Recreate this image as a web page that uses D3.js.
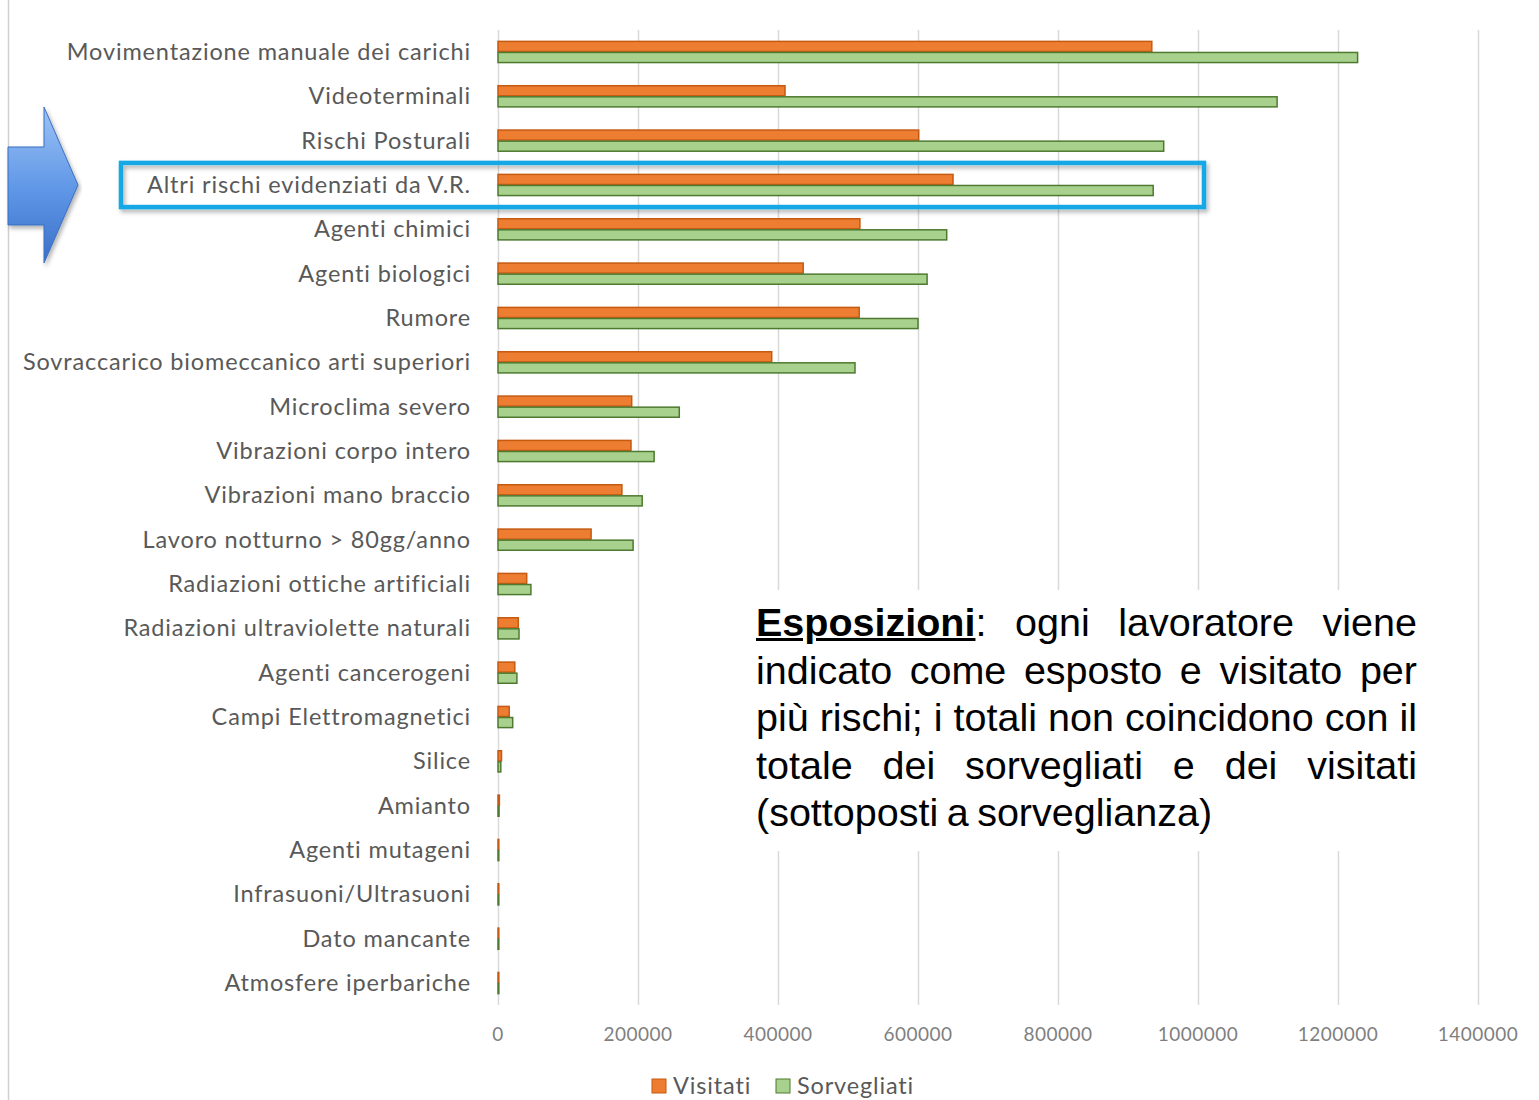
<!DOCTYPE html>
<html>
<head>
<meta charset="utf-8">
<script src="https://cdn.jsdelivr.net/npm/d3@7"></script>
<style>
  body { margin: 0; background: #fff; }
  #wrap { position: relative; width: 1539px; height: 1100px; overflow: hidden; }
  #note {
    position: absolute; left: 748px; top: 590px; width: 677px; padding: 9px 0 14px 8px;
    font-family: "Liberation Sans", Arial, sans-serif; font-size: 39.5px; line-height: 47.5px;
    color: #000; background: #fff; word-spacing: -2.5px;
  }
  #note div { width: 661px; white-space: nowrap; text-align: justify; text-align-last: justify; }
  #note div.last { text-align-last: left; }
  #note b { text-decoration: underline; }
</style>
</head>
<body>
<div id="wrap">
  <svg id="chart" width="1539" height="1100"></svg>
  <div id="note"></div>
</div>
<script>
var categories = [
  "Movimentazione manuale dei carichi", "Videoterminali", "Rischi Posturali",
  "Altri rischi evidenziati da V.R.", "Agenti chimici", "Agenti biologici", "Rumore",
  "Sovraccarico biomeccanico arti superiori", "Microclima severo", "Vibrazioni corpo intero",
  "Vibrazioni mano braccio", "Lavoro notturno > 80gg/anno", "Radiazioni ottiche artificiali",
  "Radiazioni ultraviolette naturali", "Agenti cancerogeni", "Campi Elettromagnetici",
  "Silice", "Amianto", "Agenti mutageni", "Infrasuoni/Ultrasuoni", "Dato mancante",
  "Atmosfere iperbariche"
];
var visitati = [934000, 410000, 601000, 650000, 517000, 436000, 516000, 391000, 191000, 190000,
  177000, 133000, 41000, 29000, 24000, 16000, 5000, 2000, 800, 800, 400, 900];
var sorvegliati = [1228000, 1113000, 951000, 936000, 641000, 613000, 600000, 510000, 259000, 223000,
  206000, 193000, 47000, 30000, 27000, 21000, 4000, 1500, 1000, 1000, 500, 1200];
var ticks = [0, 200000, 400000, 600000, 800000, 1000000, 1200000, 1400000];
var seriesNames = ["Visitati", "Sorvegliati"];
var noteLines = [
  "<b>Esposizioni</b>: ogni lavoratore viene",
  "indicato come esposto e visitato per",
  "più rischi; i totali non coincidono con il",
  "totale dei sorvegliati e dei visitati",
  "(sottoposti a sorveglianza)"
];
var colors = { Visitati: "#ED7D31", Sorvegliati: "#A9D18E" };
var strokes = { Visitati: "#C55A11", Sorvegliati: "#4E7A30" };
var labelFont = "Lato, 'Open Sans', sans-serif";

var svg = d3.select("#chart");
var x = d3.scaleLinear().domain([0, 1400000]).range([498, 1478]);
var y = d3.scaleBand().domain(categories).range([29.8, 1005.2]).paddingInner(0.5).paddingOuter(0.25);
var sub = d3.scaleBand().domain(seriesNames).range([0, y.bandwidth()]);

// slide edge line
svg.append("line").attr("x1", 8.5).attr("x2", 8.5).attr("y1", 0).attr("y2", 1100)
  .attr("stroke", "#d0d0d0").attr("stroke-width", 1.5);

// gridlines
svg.append("g").selectAll("line").data(ticks).enter().append("line")
  .attr("x1", function (d) { return x(d) + 0.5; })
  .attr("x2", function (d) { return x(d) + 0.5; })
  .attr("y1", 30).attr("y2", 1005)
  .attr("stroke", "#d9d9d9").attr("stroke-width", 1.5);

// tick labels
svg.append("g").selectAll("text").data(ticks).enter().append("text")
  .attr("x", function (d) { return x(d); })
  .attr("y", 1041)
  .attr("text-anchor", "middle")
  .attr("font-family", labelFont)
  .attr("font-size", 19)
  .attr("letter-spacing", 0.5)
  .attr("fill", "#7f7f7f")
  .text(function (d) { return d; });

// category labels
svg.append("g").selectAll("text").data(categories).enter().append("text")
  .attr("x", 471)
  .attr("y", function (d) { return y(d) + y.bandwidth() / 2 + 8; })
  .attr("text-anchor", "end")
  .attr("font-family", labelFont)
  .attr("font-size", 23.5)
  .attr("letter-spacing", 0.85)
  .attr("fill", "#595959")
  .text(function (d) { return d; });

// bars
var rows = svg.append("g").selectAll("g").data(categories).enter().append("g")
  .attr("transform", function (d) { return "translate(0," + y(d) + ")"; });
rows.selectAll("rect").data(function (d, i) {
  return [
    { s: "Visitati", v: visitati[i] },
    { s: "Sorvegliati", v: sorvegliati[i] }
  ];
}).enter().append("rect")
  .attr("x", x(0))
  .attr("y", function (d) { return sub(d.s) + 0.5; })
  .attr("width", function (d) { return Math.max(x(d.v) - x(0), 0.8); })
  .attr("height", sub.bandwidth() - 1)
  .attr("fill", function (d) { return colors[d.s]; })
  .attr("stroke", function (d) { return strokes[d.s]; })
  .attr("stroke-width", 1.5);

// highlight box with shadow
var defs = svg.append("defs");
var f = defs.append("filter").attr("id", "sh").attr("x", "-5%").attr("y", "-50%").attr("width", "110%").attr("height", "200%");
f.append("feDropShadow").attr("dx", 2).attr("dy", 3).attr("stdDeviation", 2).attr("flood-color", "#000").attr("flood-opacity", 0.3);
var hi = categories[3];
svg.append("rect")
  .attr("x", 121).attr("y", y(hi) - 11)
  .attr("width", 1083).attr("height", y.bandwidth() + 22)
  .attr("fill", "none").attr("stroke", "#12A8E6").attr("stroke-width", 4.5)
  .attr("filter", "url(#sh)");

// arrow
var grad = defs.append("linearGradient").attr("id", "ag").attr("x1", 0).attr("y1", 0).attr("x2", 0).attr("y2", 1);
grad.append("stop").attr("offset", "0%").attr("stop-color", "#9cc3f5");
grad.append("stop").attr("offset", "55%").attr("stop-color", "#5d95e6");
grad.append("stop").attr("offset", "100%").attr("stop-color", "#3a6fc7");
var cy = y(hi) + y.bandwidth() / 2;
svg.append("path")
  .attr("d", "M8," + (cy - 38) + " L44," + (cy - 38) + " L44," + (cy - 78) + " L78," + cy +
    " L44," + (cy + 78) + " L44," + (cy + 40) + " L8," + (cy + 40) + " Z")
  .attr("fill", "url(#ag)").attr("stroke", "#3b6fc0").attr("stroke-width", 1)
  .attr("filter", "url(#sh)");

// legend
var legX = [652, 776];
var leg = svg.append("g").selectAll("g").data(seriesNames).enter().append("g")
  .attr("transform", function (d, i) { return "translate(" + legX[i] + ",1079)"; });
leg.append("rect").attr("width", 14).attr("height", 14)
  .attr("fill", function (d) { return colors[d]; })
  .attr("stroke", function (d) { return strokes[d]; }).attr("stroke-width", 1);
leg.append("text").attr("x", 21).attr("y", 15)
  .attr("font-family", labelFont)
  .attr("font-size", 23.5).attr("letter-spacing", 0.85).attr("fill", "#595959")
  .text(function (d) { return d; });

// note box
d3.select("#note").selectAll("div").data(noteLines).enter().append("div")
  .attr("class", function (d, i) { return i === noteLines.length - 1 ? "last" : null; })
  .html(function (d) { return d; });
</script>
</body>
</html>
